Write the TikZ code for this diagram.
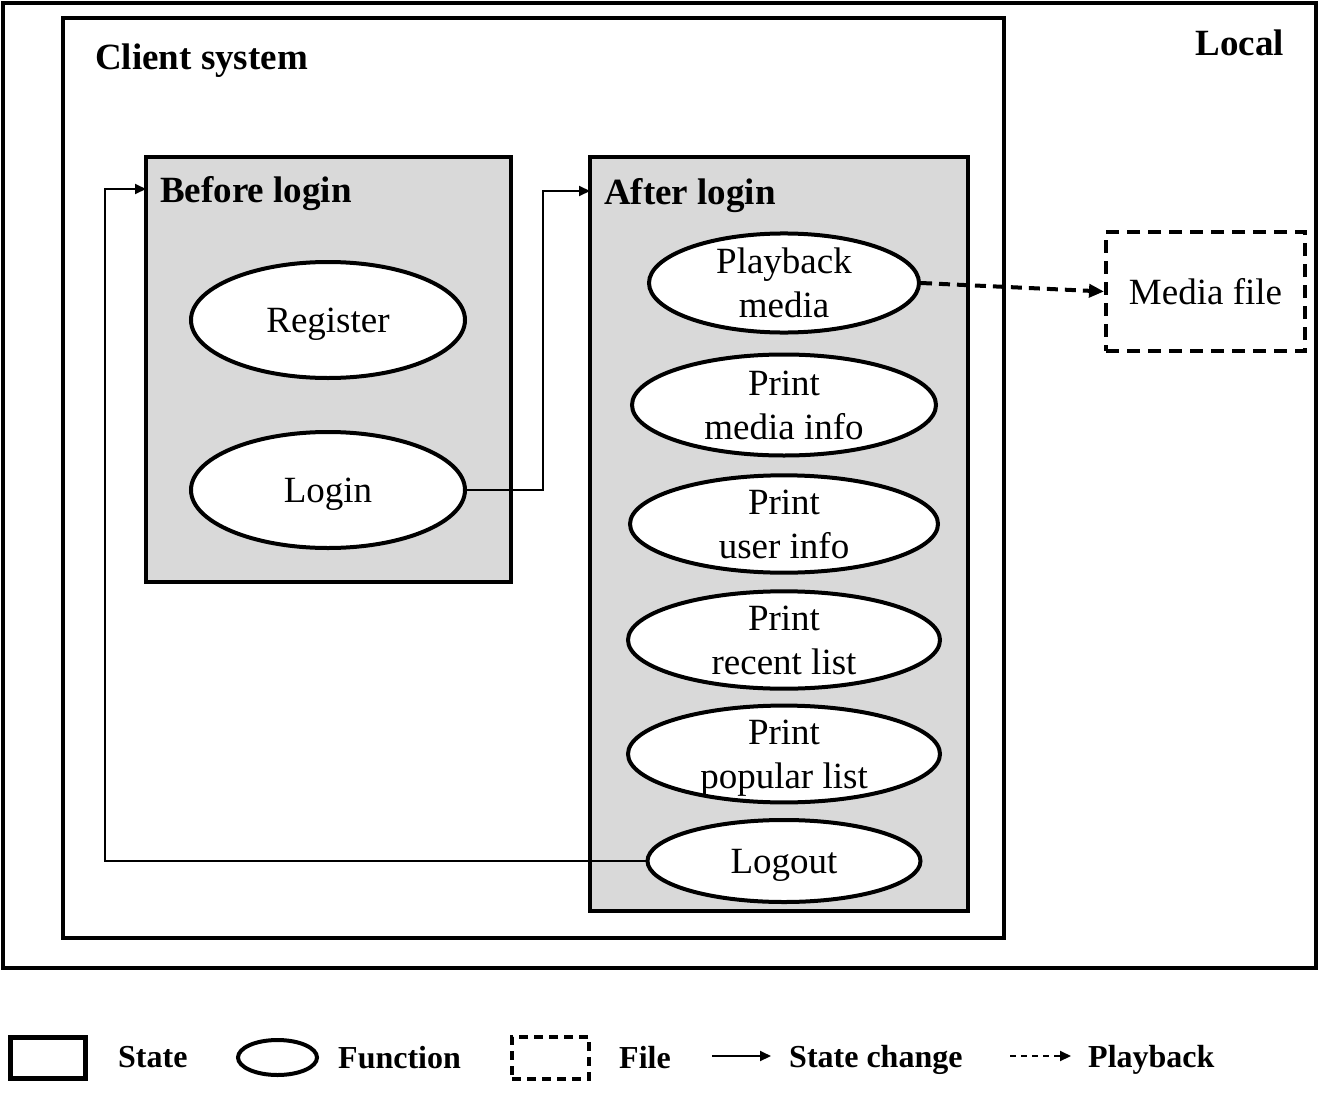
\documentclass[tikz,border=0pt]{standalone}
\usepackage{fontspec}
\setmainfont{Liberation Serif}
\usetikzlibrary{arrows.meta,shapes.geometric}
\tikzset{
  statebox/.style={draw, line width=4pt, rectangle, inner sep=0pt},
  graybox/.style={statebox, fill=black!15},
  func/.style={draw, line width=4pt, ellipse, fill=white, inner sep=0pt, align=center,
    font=\fontsize{37}{44}\selectfont},
  onefunc/.style={func, text depth=0pt},
  filebox/.style={draw, line width=4pt, dash pattern=on 13pt off 8pt, rectangle, inner sep=0pt,
    font=\fontsize{37}{44}\selectfont},
  title/.style={anchor=west, inner sep=0pt, text depth=0pt, font=\bfseries\fontsize{37}{44}\selectfont},
  legtext/.style={anchor=west, inner sep=0pt, text depth=0pt, font=\bfseries\fontsize{32}{38}\selectfont},
  conn/.style={line width=2pt, -{Triangle[length=11pt,width=10pt]}},
  playconn/.style={line width=4pt, dash pattern=on 11pt off 7pt, -{Triangle[length=15pt,width=13pt]}},
}
\begin{document}
\begin{tikzpicture}[x=1pt,y=-1pt]
\useasboundingbox (0,0) rectangle (1330,1097);
% containers
\node[statebox, minimum width=1313pt, minimum height=965pt] (local) at (659.5,485.5) {};
\node[title, anchor=east] (localt) at (1284,43) {Local};
\node[statebox, minimum width=941pt, minimum height=920pt] (client) at (533.5,478) {};
\node[title] (clientt) at (95,57) {Client system};
\node[graybox, minimum width=365pt, minimum height=425pt] (before) at (328.5,369.5) {};
\node[title] (beforet) at (160,189) {Before login};
\node[graybox, minimum width=378pt, minimum height=754pt] (after) at (779,534) {};
\node[title] (aftert) at (604,191) {After login};
% functions
\node[onefunc, minimum width=274pt, minimum height=116pt] (register) at (328,320) {Register};
\node[onefunc, minimum width=274pt, minimum height=116pt] (login) at (328,490) {Login};
\node[func, minimum width=270pt, minimum height=98pt] (playback) at (784,283) {Playback\\media};
\node[func, minimum width=304pt, minimum height=101pt] (mediainfo) at (784,405) {Print\\media info};
\node[func, minimum width=308pt, minimum height=92pt] (userinfo) at (784,524) {Print\\user info};
\node[func, minimum width=312pt, minimum height=95pt] (recent) at (784,640) {Print\\recent list};
\node[func, minimum width=312pt, minimum height=88pt, text depth=0pt] (popular) at (784,754) {Print\\popular list};
\node[onefunc, minimum width=273pt, minimum height=82pt] (logout) at (784,861) {Logout};
% file
\node[filebox, minimum width=199pt, minimum height=119pt] (media) at (1205.5,291.5) {Media file};
% connectors
\coordinate (afterin) at (590,191);
\coordinate (beforein) at (146,189);
\draw[conn] (login.east) -- ++(76,0) |- (afterin);
\draw[conn] (logout.west) -- ++(-541,0) |- (beforein);
\draw[playconn] (playback.east) -- (media.west);
% legend
\node[statebox, line width=5pt, minimum width=75pt, minimum height=41pt] (lstate) at (47.5,1057.5) {};
\node[legtext] (lstatet) at (118,1057) {State};
\node[draw, line width=4pt, ellipse, minimum width=79pt, minimum height=35pt, inner sep=0pt] (lfunc) at (277.5,1057.5) {};
\node[legtext] (lfunct) at (338,1057) {Function};
\node[draw, line width=4pt, dash pattern=on 9pt off 6pt, rectangle, inner sep=0pt, minimum width=77pt, minimum height=42pt] (lfile) at (550.5,1058) {};
\node[legtext] (lfilet) at (619,1057) {File};
\coordinate (lsc1) at (712,1056);
\coordinate (lsc2) at (771,1056);
\draw[line width=2pt, -{Triangle[length=11pt,width=10pt]}] (lsc1) -- (lsc2);
\node[legtext] (lsct) at (789,1056) {State change};
\coordinate (lpb1) at (1010,1056);
\coordinate (lpb2) at (1071,1056);
\draw[line width=2pt, dash pattern=on 6pt off 5pt, -{Triangle[length=11pt,width=10pt]}] (lpb1) -- (lpb2);
\node[legtext] (lpbt) at (1088,1056) {Playback};
\end{tikzpicture}
\end{document}
